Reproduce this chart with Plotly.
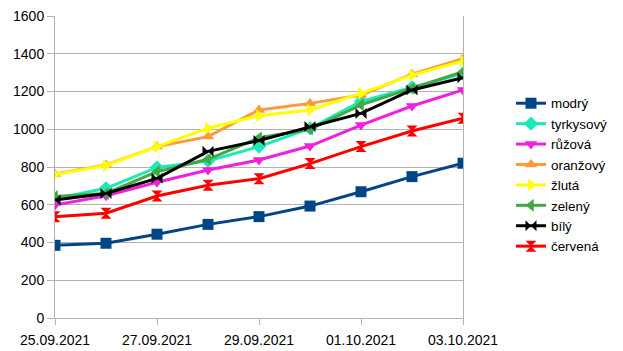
import plotly.graph_objects as go

dates = ["2021-09-25", "2021-09-26", "2021-09-27", "2021-09-28", "2021-09-29",
         "2021-09-30", "2021-10-01", "2021-10-02", "2021-10-03"]

modry = [385, 396, 444, 496, 537, 593, 669, 749, 820]
tyrkysovy = [632, 687, 798, 832, 908, 1005, 1147, 1222, 1296]
ruzova = [599, 648, 719, 784, 837, 911, 1022, 1123, 1208]
oranzovy = [763, 811, 908, 961, 1102, 1137, 1181, 1292, 1374]
zluta = [760, 808, 908, 1005, 1072, 1102, 1190, 1287, 1362]
zeleny = [644, 660, 775, 841, 955, 1000, 1129, 1217, 1305]
bily = [625, 660, 740, 883, 940, 1014, 1084, 1208, 1273]
cervena = [537, 555, 646, 703, 738, 818, 908, 991, 1058]

series = [
    ("modrý", modry, "#004586", "square"),
    ("tyrkysový", tyrkysovy, "#1de9b6", "diamond"),
    ("růžová", ruzova, "#ee22dd", "triangle-down"),
    ("oranžový", oranzovy, "#ff9a3c", "triangle-up"),
    ("žlutá", zluta, "#ffff00", "triangle-right"),
    ("zelený", zeleny, "#43a843", "triangle-left"),
    ("bílý", bily, "#000000", "bowtie"),
    ("červená", cervena, "#ff0000", "hourglass"),
]

fig = go.Figure()
for name, vals, color, sym in series:
    fig.add_trace(go.Scatter(
        x=dates, y=vals, name=name, mode="lines+markers",
        line=dict(color=color, width=3),
        marker=dict(symbol=sym, size=11, color=color, line=dict(width=0)),
    ))

fig.update_layout(
    width=623, height=351,
    margin=dict(l=55, r=160, t=16, b=33, autoexpand=False),
    paper_bgcolor="white", plot_bgcolor="white",
    font=dict(family="Liberation Sans", size=14, color="#000000"),
    showlegend=True,
    legend=dict(x=1.1176, y=0.4735, xanchor="left", yanchor="middle",
                font=dict(size=13.4), tracegroupgap=0, itemwidth=30),
)
fig.update_xaxes(
    type="date", range=["2021-09-25", "2021-10-03"],
    tickformat="%d.%m.%Y", dtick=2 * 86400000, tick0="2021-09-25",
    ticks="outside", ticklen=6, tickcolor="#b3b3b3", ticklabelstandoff=3,
    showgrid=False, showline=True, linecolor="#b3b3b3", linewidth=1,
    mirror=False, zeroline=False, automargin=False,
)
fig.update_yaxes(
    range=[0, 1600], dtick=200, ticks="outside", ticklen=7, tickcolor="#b3b3b3",
    showgrid=True, gridcolor="#b3b3b3", gridwidth=1,
    showline=True, linecolor="#b3b3b3", linewidth=1, mirror=True,
    zeroline=False, automargin=False,
)

fig.write_html("out.html")
